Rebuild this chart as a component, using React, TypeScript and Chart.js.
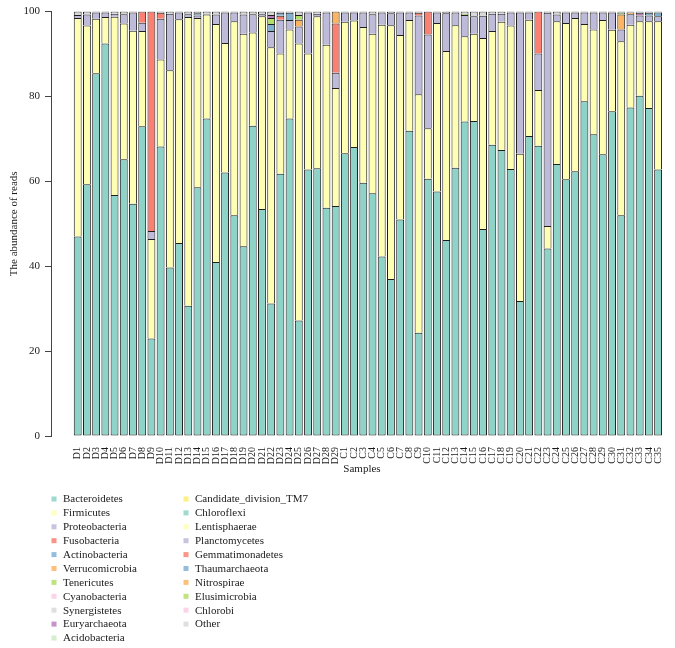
import React, { useEffect, useRef } from 'react';
import { Chart, registerables } from 'chart.js';

Chart.register(...registerables);

const samples = [
  'D1', 'D2', 'D3', 'D4', 'D5', 'D6', 'D7', 'D8', 'D9', 'D10', 'D11', 'D12', 'D13', 'D14', 'D15',
  'D16', 'D17', 'D18', 'D19', 'D20', 'D21', 'D22', 'D23', 'D24', 'D25', 'D26', 'D27', 'D28', 'D29',
  'C1', 'C2', 'C3', 'C4', 'C5', 'C6', 'C7', 'C8', 'C9', 'C10', 'C11', 'C12', 'C13', 'C14', 'C15',
  'C16', 'C17', 'C18', 'C19', 'C20', 'C21', 'C22', 'C23', 'C24', 'C25', 'C26', 'C27', 'C28', 'C29',
  'C30', 'C31', 'C32', 'C33', 'C34', 'C35',
];

const yTicks = [0, 20, 40, 60, 80, 100];

const bacteroidetes = [
  47.0, 59.3, 85.5, 92.5, 56.8, 65.2, 54.7, 73.0, 23.0, 68.2, 39.7, 45.5, 30.7, 58.6, 74.8,
  41.0, 62.1, 52.0, 44.7, 73.1, 53.5, 31.2, 61.8, 74.8, 27.2, 62.8, 63.1, 53.8, 54.2,
  66.6, 68.1, 59.7, 57.2, 42.3, 37.0, 51.0, 71.9, 24.3, 60.6, 57.6, 46.2, 63.2, 74.1, 74.2,
  48.8, 68.6, 67.4, 62.9, 31.8, 70.7, 68.4, 44.2, 64.1, 60.5, 62.4, 78.9, 71.1, 66.4,
  76.5, 52.0, 77.4, 80.2, 77.3, 62.8,
];

const firmicutes = [
  51.5, 37.4, 12.8, 6.2, 42.0, 32.0, 40.8, 22.4, 23.4, 20.5, 46.5, 52.7, 68.0, 39.9, 24.5,
  56.1, 30.5, 45.7, 50.1, 22.0, 45.4, 60.4, 28.3, 21.0, 65.3, 27.3, 35.8, 38.4, 27.8,
  31.0, 29.8, 36.7, 37.6, 54.6, 59.8, 43.5, 26.1, 56.2, 11.9, 39.7, 44.5, 33.6, 20.1, 20.6,
  45.0, 26.8, 30.2, 33.8, 34.7, 27.4, 13.1, 5.3, 33.6, 36.8, 36.1, 18.2, 24.7, 31.6,
  19.2, 41.0, 19.5, 17.5, 20.4, 34.9,
];

const proteobacteria = [
  0.7, 2.6, 1.5, 1.1, 0.7, 2.2, 4.3, 2.0, 1.9, 9.6, 13.3, 1.6, 0.7, 0.6, 0.2,
  2.2, 7.2, 2.1, 4.5, 4.3, 0.5, 3.8, 8.0, 2.2, 4.0, 9.7, 0.6, 7.6, 3.6,
  2.2, 1.9, 3.4, 4.6, 2.9, 2.8, 5.3, 1.8, 18.6, 22.1, 2.5, 8.9, 3.0, 5.0, 4.1,
  5.2, 4.1, 1.9, 3.1, 33.3, 1.7, 8.6, 50.2, 1.6, 2.5, 1.3, 2.7, 4.0, 1.8,
  4.1, 2.8, 2.5, 1.4, 1.4, 1.2,
];

const fusobacteria = [
  0, 0, 0, 0, 0, 0, 0, 2.6, 51.7, 1.4, 0, 0, 0, 0, 0,
  0, 0, 0, 0, 0, 0, 0, 0.9, 0, 0, 0, 0, 0, 11.6,
  0, 0, 0, 0, 0, 0, 0, 0, 0.6, 5.4, 0, 0, 0, 0, 0,
  0, 0, 0, 0, 0, 0, 9.9, 0, 0, 0, 0, 0, 0, 0,
  0, 0, 0, 0, 0, 0,
];

const actinobacteria = [
  0, 0, 0, 0, 0, 0, 0, 0, 0, 0, 0, 0, 0, 0.5, 0,
  0, 0, 0, 0, 0, 0, 1.7, 0.7, 1.7, 0, 0, 0, 0, 0,
  0, 0, 0, 0, 0, 0, 0, 0, 0, 0, 0, 0, 0, 0, 0,
  0, 0, 0, 0, 0, 0, 0, 0, 0, 0, 0, 0, 0, 0,
  0, 0, 0, 0, 0.6, 0.9,
];

const verrucomicrobia = [
  0, 0, 0, 0, 0, 0, 0, 0, 0, 0, 0, 0, 0, 0, 0,
  0, 0, 0, 0, 0, 0, 0, 0, 0, 1.6, 0, 0, 0, 2.8,
  0, 0, 0, 0, 0, 0, 0, 0, 0, 0, 0, 0, 0, 0, 0,
  0, 0, 0, 0, 0, 0, 0, 0, 0, 0, 0, 0, 0, 0,
  0, 3.5, 0.4, 0, 0, 0,
];

const tenericutes = [
  0, 0, 0, 0, 0, 0, 0, 0, 0, 0, 0, 0, 0, 0, 0,
  0, 0, 0, 0, 0, 0, 1.4, 0, 0, 1.1, 0, 0, 0, 0,
  0, 0, 0, 0, 0, 0, 0, 0, 0, 0, 0, 0, 0, 0.3, 0,
  0, 0, 0, 0, 0, 0, 0, 0, 0, 0, 0, 0, 0, 0,
  0, 0.5, 0, 0, 0, 0,
];

const euryarchaeota = [
  0, 0, 0, 0, 0, 0, 0, 0, 0, 0, 0, 0, 0, 0, 0,
  0, 0, 0, 0, 0, 0, 0.7, 0, 0, 0, 0, 0, 0, 0,
  0, 0, 0, 0, 0, 0, 0, 0, 0, 0, 0, 0, 0, 0, 0,
  0, 0, 0, 0, 0, 0, 0, 0, 0, 0, 0, 0, 0, 0,
  0, 0, 0, 0.6, 0, 0,
];

const other = [
  0.8, 0.7, 0.2, 0.2, 0.5, 0.6, 0.2, 0, 0, 0.3, 0.5, 0.2, 0.6, 0.4, 0.5,
  0.7, 0.2, 0.2, 0.7, 0.6, 0.6, 0.8, 0.3, 0.3, 0.8, 0.2, 0.5, 0.2, 0,
  0.2, 0.2, 0.2, 0.6, 0.2, 0.4, 0.2, 0.2, 0.3, 0, 0.2, 0.4, 0.2, 0.5, 1.1,
  1.0, 0.5, 0.5, 0.2, 0.2, 0.2, 0, 0.3, 0.7, 0.2, 0.2, 0.2, 0.2, 0.2,
  0.2, 0.2, 0.2, 0.3, 0.3, 0.2,
];

const legendNames = [
  'Bacteroidetes', 'Firmicutes', 'Proteobacteria', 'Fusobacteria', 'Actinobacteria',
  'Verrucomicrobia', 'Tenericutes', 'Cyanobacteria', 'Synergistetes', 'Euryarchaeota',
  'Acidobacteria', 'Candidate_division_TM7', 'Chloroflexi', 'Lentisphaerae', 'Planctomycetes',
  'Gemmatimonadetes', 'Thaumarchaeota', 'Nitrospirae', 'Elusimicrobia', 'Chlorobi', 'Other',
];

const legendColors = [
  '#8DD3C7', '#FFFFB3', '#BEBADA', '#FB8072', '#80B1D3',
  '#FDB462', '#B3DE69', '#FCCDE5', '#D9D9D9', '#BC80BD',
  '#CCEBC5', '#FFED6F', '#8DD3C7', '#FFFFB3', '#BEBADA',
  '#FB8072', '#80B1D3', '#FDB462', '#B3DE69', '#FCCDE5', '#D9D9D9',
];

const seriesList: { name: string; values: number[] }[] = [
  { name: 'Bacteroidetes', values: bacteroidetes },
  { name: 'Firmicutes', values: firmicutes },
  { name: 'Proteobacteria', values: proteobacteria },
  { name: 'Fusobacteria', values: fusobacteria },
  { name: 'Actinobacteria', values: actinobacteria },
  { name: 'Verrucomicrobia', values: verrucomicrobia },
  { name: 'Tenericutes', values: tenericutes },
  { name: 'Euryarchaeota', values: euryarchaeota },
  { name: 'Other', values: other },
];

const FONT = '"Liberation Serif", "DejaVu Serif", serif';
const TEXT = '#1a1a1a';

export default function App() {
  const ref = useRef<HTMLCanvasElement>(null);

  useEffect(() => {
    document.body.style.margin = '0';
    const canvas = ref.current;
    if (!canvas) return;

    const colorOf = (n: string) => legendColors[legendNames.indexOf(n)];

    const datasets = seriesList.map((s, k) => ({
      label: s.name,
      data: s.values.map((v, i) => ({ x: i, y: v > 0 ? v : null })),
      backgroundColor: colorOf(s.name),
      borderColor: '#1e1e1e',
      borderWidth: k === 0 ? 1 : { top: 1, left: 1, right: 1, bottom: 0 },
      borderSkipped: false as const,
      barPercentage: 0.855,
      categoryPercentage: 1,
      inflateAmount: 0,
    }));

    const legendPlugin = {
      id: 'columnLegend',
      afterDraw(chart: any) {
        const ctx = chart.ctx as CanvasRenderingContext2D;
        ctx.save();
        ctx.font = `11px ${FONT}`;
        ctx.textBaseline = 'middle';
        ctx.textAlign = 'left';
        legendNames.forEach((name, i) => {
          const col = i < 11 ? 0 : 1;
          const row = col === 0 ? i : i - 11;
          const y = 499 + row * 13.9;
          const sx = col === 0 ? 54 : 186;
          const tx = col === 0 ? 63 : 195;
          ctx.fillStyle = legendColors[i];
          ctx.globalAlpha = 0.85;
          ctx.fillRect(sx - 2.5, y - 2.5, 5, 5);
          ctx.globalAlpha = 1;
          ctx.fillStyle = TEXT;
          ctx.fillText(name, tx, y + 0.5);
        });
        ctx.restore();
      },
    };

    const chart = new Chart(canvas, {
      type: 'bar',
      data: { datasets: datasets as any },
      options: {
        responsive: false,
        animation: false,
        devicePixelRatio: 1,
        layout: { padding: { top: 10, left: 0, right: 2, bottom: 168 } },
        plugins: {
          legend: { display: false },
          tooltip: { enabled: false },
        },
        scales: {
          x: {
            type: 'linear',
            stacked: true,
            min: -2.372,
            max: 64.09,
            grid: { display: false },
            border: { display: false },
            afterBuildTicks: (s: any) => {
              s.ticks = samples.map((_, i) => ({ value: i }));
            },
            afterFit: (s: any) => {
              s.height = 44;
            },
            ticks: {
              autoSkip: false,
              maxRotation: 90,
              minRotation: 90,
              padding: 3,
              color: TEXT,
              font: { family: FONT, size: 10 },
              callback: (v: any) => samples[v as number] ?? '',
            },
            title: {
              display: true,
              text: 'Samples',
              color: TEXT,
              font: { family: FONT, size: 11 },
              padding: { top: 0, bottom: 4 },
            },
          },
          y: {
            stacked: true,
            min: 0,
            max: 100,
            afterBuildTicks: (s: any) => {
              s.ticks = yTicks.map((v) => ({ value: v }));
            },
            afterFit: (s: any) => {
              s.width = 51;
            },
            ticks: {
              padding: 5,
              color: TEXT,
              font: { family: FONT, size: 11 },
            },
            grid: {
              drawOnChartArea: false,
              drawTicks: true,
              tickLength: 6,
              color: '#444',
            },
            border: { display: true, color: '#444' },
            title: {
              display: true,
              text: 'The abundance of reads',
              color: TEXT,
              font: { family: FONT, size: 11 },
              padding: { top: 8, bottom: 0 },
            },
          },
        },
      } as any,
      plugins: [legendPlugin],
    });

    return () => chart.destroy();
  }, []);

  return (
    <div style={{ width: 675, height: 648 }}>
      <canvas ref={ref} width={675} height={648} style={{ width: 675, height: 648, display: 'block' }} />
    </div>
  );
}
